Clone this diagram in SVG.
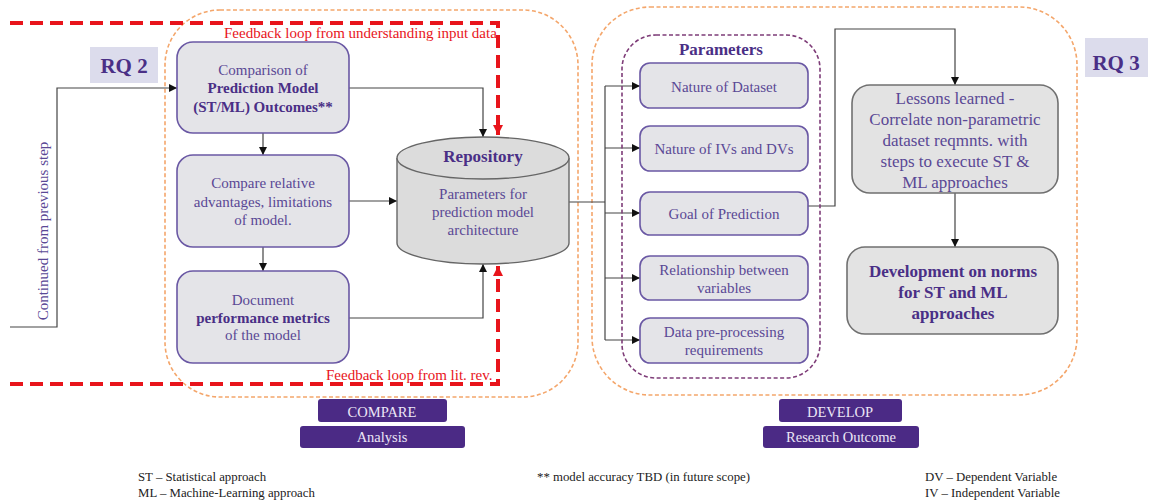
<svg xmlns="http://www.w3.org/2000/svg" width="1149" height="502" viewBox="0 0 1149 502">
  <defs>
    <marker id="arr" viewBox="0 0 10 10" refX="10" refY="5" markerWidth="8" markerHeight="8" markerUnits="userSpaceOnUse" orient="auto">
      <path d="M0,0 L10,5 L0,10 z" fill="#111"/>
    </marker>
    <marker id="arrRed" viewBox="0 0 10 10" refX="10" refY="5" markerWidth="10" markerHeight="10" markerUnits="userSpaceOnUse" orient="auto">
      <path d="M0,0 L10,5 L0,10 z" fill="#e8141b"/>
    </marker>
    <style>
      text { font-family: "Liberation Serif", "Times New Roman", serif; }
      .zone { fill: none; stroke: #f4a66b; stroke-width: 1.6; stroke-dasharray: 4 2.5; }
      .params { fill: none; stroke: #7e3c78; stroke-width: 1.6; stroke-dasharray: 4 2.5; }
      .box { fill: #e4e4e8; stroke: #6a58a4; stroke-width: 1.6; }
      .gbox { fill: #e3e3e3; stroke: #707070; stroke-width: 1.6; }
      .tag { fill: #dcdcec; }
      .band { fill: #4b2a85; }
      .t { fill: #5a4895; text-anchor: middle; }
      .b { font-weight: bold; fill: #4a2f86; }
      .red { fill: #e8141b; font-size: 15px; }
      .wt { fill: #ece6f6; font-size: 14.5px; text-anchor: middle; }
      .leg { fill: #222; font-size: 12.8px; }
      .ln { fill: none; stroke: #444; stroke-width: 1.2; }
      .fb { fill: none; stroke: #e8141b; stroke-width: 4; stroke-dasharray: 13 7; }
    </style>
  </defs>

  <rect width="1149" height="502" fill="#ffffff"/>

  <!-- stage zones -->
  <g id="zone-compare">
    <rect class="zone" x="165" y="10" width="413" height="387" rx="55"/>
  </g>
  <g id="zone-develop">
    <rect class="zone" x="592" y="7" width="485" height="388" rx="58"/>
  </g>

  <!-- research question tags -->
  <g id="rq2">
    <rect class="tag" x="90" y="47" width="68" height="36"/>
    <text class="t b" x="124" y="73" font-size="21">RQ 2</text>
  </g>
  <g id="rq3">
    <rect class="tag" x="1085" y="38" width="63" height="39"/>
    <text class="t b" x="1116" y="70" font-size="21">RQ 3</text>
  </g>

  <!-- connectors -->
  <g id="connectors">
    <polyline class="ln" points="10,327 57,327 57,88 177,88" marker-end="url(#arr)"/>
    <line class="ln" x1="263" y1="133" x2="263" y2="155" marker-end="url(#arr)"/>
    <line class="ln" x1="263" y1="247" x2="263" y2="271" marker-end="url(#arr)"/>
    <polyline class="ln" points="349,88 483,88 483,137" marker-end="url(#arr)"/>
    <line class="ln" x1="349" y1="201" x2="397" y2="201" marker-end="url(#arr)"/>
    <polyline class="ln" points="349,318 483,318 483,264" marker-end="url(#arr)"/>
    <polyline class="ln" points="569,202 605,202"/>
    <line class="ln" x1="605" y1="86" x2="605" y2="340"/>
    <line class="ln" x1="605" y1="86" x2="640" y2="86" marker-end="url(#arr)"/>
    <line class="ln" x1="605" y1="148" x2="640" y2="148" marker-end="url(#arr)"/>
    <line class="ln" x1="605" y1="213" x2="640" y2="213" marker-end="url(#arr)"/>
    <line class="ln" x1="605" y1="278" x2="640" y2="278" marker-end="url(#arr)"/>
    <line class="ln" x1="605" y1="340" x2="640" y2="340" marker-end="url(#arr)"/>
    <polyline class="ln" points="808,206 835,206 835,29 955,29 955,85" marker-end="url(#arr)"/>
    <line class="ln" x1="955" y1="193" x2="955" y2="247" marker-end="url(#arr)"/>
    <!-- feedback loops -->
    <polyline class="fb" points="10,23 498,23 498,127"/>
    <line x1="498" y1="126" x2="498" y2="135" stroke="#e8141b" stroke-width="4" marker-end="url(#arrRed)"/>
    <polyline class="fb" points="10,384 498,384 498,275"/>
    <line x1="498" y1="276" x2="498" y2="266" stroke="#e8141b" stroke-width="4" marker-end="url(#arrRed)"/>
  </g>

  <!-- feedback labels -->
  <text class="red" x="224" y="38">Feedback loop from understanding input data</text>
  <text class="red" x="326" y="380">Feedback loop from lit. rev.</text>

  <text class="t" transform="translate(48,231) rotate(-90)" font-size="15">Continued from previous step</text>

  <!-- compare stage -->
  <g id="n-comparison">
    <rect class="box" x="177" y="42" width="172" height="91" rx="16"/>
    <text class="t" x="263" y="75" font-size="15">Comparison of</text>
    <text class="t b" x="263" y="93" font-size="15">Prediction Model</text>
    <text class="t b" x="263" y="112" font-size="15">(ST/ML) Outcomes**</text>
  </g>
  <g id="n-advantages">
    <rect class="box" x="177" y="155" width="172" height="92" rx="16"/>
    <text class="t" x="263" y="188" font-size="15">Compare relative</text>
    <text class="t" x="263" y="207" font-size="15">advantages, limitations</text>
    <text class="t" x="263" y="225" font-size="15">of model.</text>
  </g>
  <g id="n-metrics">
    <rect class="box" x="177" y="271" width="172" height="92" rx="16"/>
    <text class="t" x="263" y="305" font-size="15">Document</text>
    <text class="t b" x="263" y="323" font-size="15">performance metrics</text>
    <text class="t" x="263" y="340" font-size="15">of the model</text>
  </g>

  <g id="n-repository">
    <path d="M397,158 L397,243 A86,21 0 0 0 569,243 L569,158" fill="#dcdcdc" stroke="#666" stroke-width="1.4"/>
    <ellipse cx="483" cy="158" rx="86" ry="21" fill="#dcdcdc" stroke="#666" stroke-width="1.4"/>
    <text class="t b" x="483" y="162" font-size="17">Repository</text>
    <text class="t" x="483" y="199" font-size="15">Parameters for</text>
    <text class="t" x="483" y="217" font-size="15">prediction model</text>
    <text class="t" x="483" y="235" font-size="15">architecture</text>
  </g>

  <!-- develop stage -->
  <g id="n-parameters">
    <rect class="params" x="622" y="35" width="198" height="343" rx="34"/>
    <text class="t b" x="721" y="55" font-size="17">Parameters</text>
  </g>
  <g id="n-dataset">
    <rect class="box" x="640" y="63" width="168" height="45" rx="10"/>
    <text class="t" x="724" y="92" font-size="15">Nature of Dataset</text>
  </g>
  <g id="n-ivdv">
    <rect class="box" x="640" y="126" width="168" height="45" rx="10"/>
    <text class="t" x="724" y="154" font-size="15">Nature of IVs and DVs</text>
  </g>
  <g id="n-goal">
    <rect class="box" x="640" y="192" width="168" height="43" rx="10"/>
    <text class="t" x="724" y="219" font-size="15">Goal of Prediction</text>
  </g>
  <g id="n-relationship">
    <rect class="box" x="640" y="256" width="168" height="44" rx="10"/>
    <text class="t" x="724" y="275" font-size="15">Relationship between</text>
    <text class="t" x="724" y="293" font-size="15">variables</text>
  </g>
  <g id="n-preprocessing">
    <rect class="box" x="640" y="318" width="168" height="45" rx="10"/>
    <text class="t" x="724" y="337" font-size="15">Data pre-processing</text>
    <text class="t" x="724" y="355" font-size="15">requirements</text>
  </g>

  <g id="n-lessons">
    <rect class="gbox" x="852" y="85" width="206" height="108" rx="18"/>
    <text class="t" x="955" y="104" font-size="17">Lessons learned -</text>
    <text class="t" x="955" y="125" font-size="17">Correlate non-parametric</text>
    <text class="t" x="955" y="146" font-size="17">dataset reqmnts. with</text>
    <text class="t" x="955" y="167" font-size="17">steps to execute ST &amp;</text>
    <text class="t" x="955" y="188" font-size="17">ML approaches</text>
  </g>
  <g id="n-development">
    <rect class="gbox" x="847" y="247" width="211" height="87" rx="18"/>
    <text class="t b" x="953" y="277" font-size="17">Development on norms</text>
    <text class="t b" x="953" y="298" font-size="17">for ST and ML</text>
    <text class="t b" x="953" y="319" font-size="17">approaches</text>
  </g>

  <!-- stage bands -->
  <g id="band-compare">
    <rect class="band" x="318" y="399" width="129" height="23" rx="3"/>
    <text class="wt" x="382" y="417">COMPARE</text>
  </g>
  <g id="band-analysis">
    <rect class="band" x="300" y="426" width="165" height="22" rx="3"/>
    <text class="wt" x="382" y="442">Analysis</text>
  </g>
  <g id="band-develop">
    <rect class="band" x="779" y="399" width="123" height="23" rx="3"/>
    <text class="wt" x="840" y="417">DEVELOP</text>
  </g>
  <g id="band-outcome">
    <rect class="band" x="763" y="426" width="156" height="22" rx="3"/>
    <text class="wt" x="841" y="442">Research Outcome</text>
  </g>

  <!-- legend -->
  <g id="legend">
    <text class="leg" x="138" y="481">ST – Statistical approach</text>
    <text class="leg" x="138" y="497">ML – Machine-Learning approach</text>
    <text class="leg" x="537" y="481">** model accuracy TBD (in future scope)</text>
    <text class="leg" x="925" y="481">DV – Dependent Variable</text>
    <text class="leg" x="925" y="497">IV – Independent Variable</text>
  </g>
</svg>
